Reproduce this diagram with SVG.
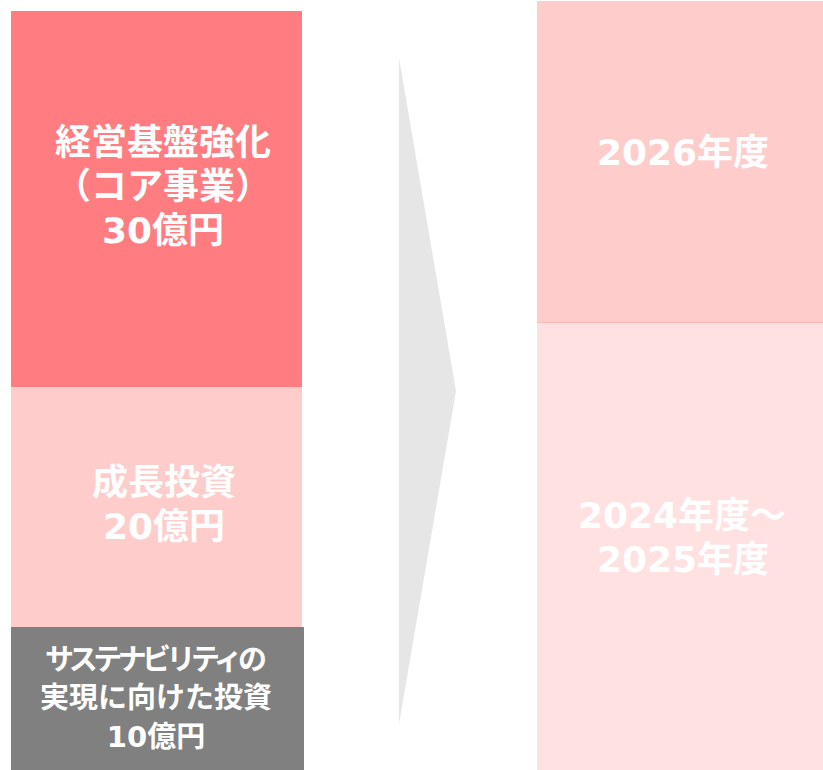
<svg xmlns="http://www.w3.org/2000/svg" width="823" height="770" viewBox="0 0 823 770">
<style>
.t{font-family:"DejaVu Sans","Noto Sans CJK JP",sans-serif;font-weight:bold;fill:#FFFFFF;text-anchor:middle}
.b{font-size:36px}
.s{font-size:29px}
</style>
<rect width="823" height="770" fill="#FFFFFF"/>
<g id="core">
<rect x="11" y="11" width="291" height="377" fill="#FF7C80"/>
<text class="t b" x="163" y="155">経営基盤強化</text>
<text class="t b" x="163" y="199" style="font-family:'Noto Sans CJK JP',sans-serif">（コア事業）</text>
<text class="t b" x="163" y="243">30億円</text>
</g>
<g id="growth">
<rect x="11" y="387" width="291" height="241" fill="#FFCCCC"/>
<text class="t b" x="164" y="495">成長投資</text>
<text class="t b" x="164" y="539">20億円</text>
</g>
<g id="sustain">
<rect x="11" y="627" width="293" height="143" fill="#808080"/>
<text class="t s" x="156" y="670" textLength="222" lengthAdjust="spacing">サステナビリティの</text>
<text class="t s" x="156" y="708">実現に向けた投資</text>
<text class="t s" x="156" y="747">10億円</text>
</g>
<g id="connectors">
<polygon points="399,58 456,391 399,724" fill="#E6E6E6"/>
</g>
<g id="y2026">
<rect x="537" y="1" width="286" height="322" fill="#FFCCCC"/>
<text class="t b" x="683" y="165">2026年度</text>
</g>
<g id="y2024">
<rect x="537" y="322" width="286" height="448" fill="#FFE1E2"/>
<line x1="537" y1="322.5" x2="823" y2="322.5" stroke="#FFB8B8" stroke-width="1"/>
<text class="t b" x="682" y="528" style="font-family:'DejaVu Sans','Noto Sans CJK JP',sans-serif">2024年度～</text>
<text class="t b" x="683" y="572">2025年度</text>
</g>
</svg>
